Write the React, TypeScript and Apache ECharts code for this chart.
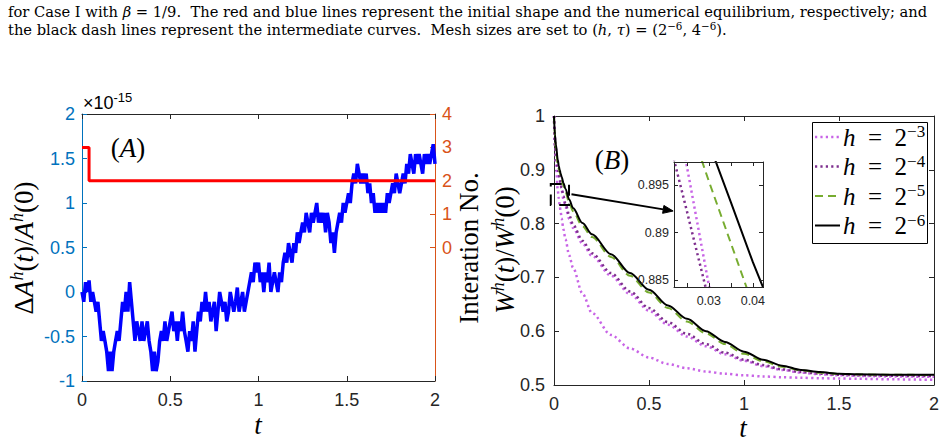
import { useEffect, useRef } from 'react';
import * as echarts from 'echarts';

// ---- Panel (A): relative area change (units of 1e-15), sampled every AREA_DT ----
const AREA_DT = 0.01;
const AREA_ERR = [
  0, -0.11, 0.11, 0, 0.13, -0.11, 0, -0.11, -0.22, -0.11,
  -0.33, -0.55, -0.44, -0.55, -0.67, -0.89, -0.67, -0.89, -0.67, -0.55,
  -0.44, -0.55, -0.33, -0.11, -0.22, 0, -0.22, 0.11, -0.11, -0.33,
  -0.55, -0.33, -0.44, -0.55, -0.33, -0.55, -0.44, -0.33, -0.55, -0.67,
  -0.89, -0.67, -0.89, -0.78, -0.55, -0.44, -0.55, -0.33, -0.55, -0.44,
  -0.33, -0.22, -0.44, -0.33, -0.55, -0.33, -0.44, -0.22, -0.44, -0.55,
  -0.67, -0.44, -0.55, -0.33, -0.67, -0.44, -0.22, -0.33, -0.11, -0.22,
  0, -0.22, -0.11, -0.33, -0.22, -0.11, -0.44, -0.22, 0, -0.11,
  -0.22, -0.11, -0.33, -0.22, 0, -0.11, -0.22, -0.11, 0.05, -0.22,
  -0.11, 0, -0.22, -0.11, 0, 0.11, 0.22, 0.11, 0.33, 0.22,
  0.33, 0.11, 0.22, 0, 0.22, 0.11, 0.33, 0, 0.11, 0.22,
  0.11, 0, 0.22, 0.11, 0.33, 0.44, 0.33, 0.55, 0.44, 0.33,
  0.55, 0.44, 0.67, 0.55, 0.67, 0.78, 0.67, 0.89, 0.78, 0.67,
  0.89, 0.78, 0.89, 1.0, 0.78, 0.89, 0.78, 0.89, 0.67, 0.89,
  0.78, 0.55, 0.67, 0.44, 0.67, 0.78, 0.89, 0.78, 1.0, 0.89,
  1.0, 1.11, 1.0, 1.22, 1.33, 1.22, 1.44, 1.33, 1.22, 1.33,
  1.22, 1.33, 1.11, 1.22, 1.0, 1.11, 0.89, 1.0, 0.89, 1.0,
  0.89, 1.0, 0.89, 1.11, 1.0, 1.11, 1.22, 1.11, 1.33, 1.22,
  1.11, 1.22, 1.33, 1.22, 1.44, 1.33, 1.55, 1.44, 1.33, 1.55,
  1.44, 1.55, 1.44, 1.33, 1.55, 1.44, 1.55, 1.44, 1.55, 1.66,
  1.44,
];

// iteration count of the nonlinear solver
const ITER_T = [0, 0.04, 2];
const ITER_N = [3, 2, 2];

// ---- Panel (B): normalized energy W^h(t)/W^h(0) for several mesh sizes ----
const T = [
  0, 0.005, 0.01, 0.02, 0.025, 0.03, 0.035, 0.04, 0.05, 0.06,
  0.08, 0.1, 0.15, 0.2, 0.3, 0.4, 0.5, 0.6, 0.7, 0.8,
  0.9, 1.0, 1.1, 1.2, 1.3, 1.4, 1.5, 1.6, 1.8, 2.0,
];
const W_H2 = [
  1, 0.945, 0.912, 0.862, 0.847, 0.834, 0.822, 0.81, 0.789, 0.771,
  0.741, 0.718, 0.67, 0.634, 0.593, 0.568, 0.551, 0.539, 0.531, 0.525,
  0.521, 0.518, 0.516, 0.5145, 0.5135, 0.5125, 0.512, 0.5115, 0.5105, 0.5095,
];
const W_H3 = [
  1, 0.96, 0.94, 0.91, 0.897, 0.8845, 0.873, 0.862, 0.845, 0.831,
  0.809, 0.792, 0.763, 0.74, 0.703, 0.669, 0.638, 0.612, 0.59, 0.572,
  0.557, 0.545, 0.535, 0.528, 0.523, 0.52, 0.518, 0.517, 0.5158, 0.5152,
];
const W_H4 = [
  1, 0.945, 0.927, 0.9015, 0.8923, 0.8829, 0.8745, 0.8665, 0.851, 0.838,
  0.816, 0.798, 0.768, 0.745, 0.708, 0.674, 0.643, 0.617, 0.595, 0.576,
  0.56, 0.547, 0.537, 0.529, 0.524, 0.521, 0.519, 0.518, 0.517, 0.5165,
];
const W_H5 = [
  1, 0.962, 0.94, 0.91, 0.9022, 0.8954, 0.8889, 0.8824, 0.87, 0.859,
  0.839, 0.823, 0.795, 0.775, 0.738, 0.703, 0.672, 0.643, 0.618, 0.596,
  0.576, 0.558, 0.544, 0.534, 0.527, 0.523, 0.5205, 0.5195, 0.519, 0.5185,
];
const W_H6 = [
  1, 0.965, 0.947, 0.918, 0.9075, 0.8994, 0.8932, 0.8869, 0.8755, 0.865,
  0.845, 0.829, 0.801, 0.78, 0.743, 0.708, 0.677, 0.648, 0.623, 0.6,
  0.58, 0.562, 0.547, 0.536, 0.528, 0.524, 0.521, 0.52, 0.519, 0.519,
];

const LEGEND_EXP = ['−3', '−4', '−5', '−6'];

// inset window and annotation geometry (data coordinates of panel B)
const INSET_X = [0.0221, 0.0423];
const INSET_Y = [0.8843, 0.8974];
const ZOOM_BOX = [[-0.017, 0.8736], [0.079, 0.8346]];
const ARROW = [[0.092, 0.8545], [0.627, 0.8234]];

const SANS = "'Liberation Sans', Arial, Helvetica, sans-serif";
const SERIF = "'Liberation Serif', 'Times New Roman', serif";
const CAP_SERIF = "'DejaVu Serif', serif";
const AX = '#262626';
const BLUE_AX = '#0072BD';
const ORANGE_AX = '#D95319';
const ORCHID = '#C864E6';
const PURPLE = '#7E2F8E';
const GREEN = '#77AC30';
const DOTTED = [2.2, 3.2];
const DASHED = [8, 5];

type Style = { color: string; dash: number[] | null; width: number };
const STYLES: Style[] = [
  { color: ORCHID, dash: DOTTED, width: 2.5 },
  { color: PURPLE, dash: DOTTED, width: 2.5 },
  { color: GREEN, dash: DASHED, width: 2 },
  { color: '#000', dash: null, width: 2 },
];

const mathRich = (family: string, size: number, supSize: number, lh: number, supLh: number) => ({
  rm: { fontFamily: family, fontSize: size, lineHeight: lh, color: '#000' },
  it: { fontFamily: family, fontStyle: 'italic', fontSize: size, lineHeight: lh, color: '#000' },
  sup: { fontFamily: family, fontStyle: 'italic', fontSize: supSize, lineHeight: supLh, verticalAlign: 'top', color: '#000' },
  supr: { fontFamily: family, fontSize: supSize, lineHeight: supLh, verticalAlign: 'top', color: '#000' },
});

const pairs = (xs: number[], ys: number[]) => xs.map((x, i) => [x, ys[i]]);

function axisCommon(color: string, tickLen: number) {
  return {
    axisLine: { show: true, onZero: false, lineStyle: { color, width: 1 } },
    axisTick: { show: true, inside: true, length: tickLen, lineStyle: { color } },
    splitLine: { show: false },
  };
}

function buildOption() {
  const curve = (data: number[], st: Style, xi: number, yi: number, inset: boolean) => ({
    type: 'line', xAxisIndex: xi, yAxisIndex: yi, data: pairs(T, data),
    showSymbol: false, symbol: 'none', smooth: inset ? false : 0.3, smoothMonotone: 'x',
    lineStyle: { color: st.color, width: st.width, type: st.dash || 'solid', cap: 'butt' },
    clip: true, z: inset ? 8 : 3,
  });
  const groups: [number[], Style][] = [
    [W_H2, STYLES[0]],
    [W_H3, STYLES[0]],
    [W_H4, STYLES[1]],
    [W_H5, STYLES[2]],
    [W_H6, STYLES[3]],
  ];
  const mainCurves = groups.map((g) => curve(g[0], g[1], 2, 2, false));
  const insetCurves = groups.map((g) => curve(g[0], g[1], 4, 4, true));

  const mainX = (grid: number, pos: string, show: boolean) => ({
    type: 'value', gridIndex: grid, position: pos, min: 0, max: 2, interval: 0.5,
    ...axisCommon(AX, 5),
    axisLabel: { show, color: AX, fontFamily: SANS, fontSize: 18, margin: 10 },
  });
  const insetX = (pos: string, show: boolean) => ({
    type: 'value', gridIndex: 2, position: pos, min: INSET_X[0], max: INSET_X[1], z: 9,
    ...axisCommon(AX, 4),
    axisTick: { show: true, inside: true, length: 4, lineStyle: { color: AX }, customValues: [0.025, 0.03, 0.035, 0.04] },
    axisLabel: { show, color: AX, fontFamily: SANS, fontSize: 12.5, margin: 7, customValues: [0.03, 0.04] },
  });
  const insetY = (pos: string, show: boolean) => ({
    type: 'value', gridIndex: 2, position: pos, min: INSET_Y[0], max: INSET_Y[1], z: 9,
    ...axisCommon(AX, 4),
    axisTick: { show: true, inside: true, length: 4, lineStyle: { color: AX }, customValues: [0.885, 0.89, 0.895] },
    axisLabel: { show, color: AX, fontFamily: SANS, fontSize: 12.5, margin: 5, customValues: [0.885, 0.89, 0.895] },
  });

  return {
    animation: false,
    backgroundColor: '#fff',
    grid: [
      { left: 82, top: 114, width: 353, height: 267, show: false },
      { left: 554, top: 116, width: 380, height: 269, show: false },
      { left: 674, top: 162, width: 89, height: 125, show: true, backgroundColor: '#fff', borderWidth: 0, z: 6 },
    ],
    xAxis: [
      mainX(0, 'bottom', true),
      mainX(0, 'top', false),
      mainX(1, 'bottom', true),
      mainX(1, 'top', false),
      insetX('bottom', true),
      insetX('top', false),
    ],
    yAxis: [
      {
        type: 'value', gridIndex: 0, position: 'left', min: -1, max: 2, interval: 0.5,
        ...axisCommon(BLUE_AX, 5),
        axisLabel: { color: BLUE_AX, fontFamily: SANS, fontSize: 18, margin: 7 },
      },
      {
        type: 'value', gridIndex: 0, position: 'right', min: -4, max: 4,
        ...axisCommon(ORANGE_AX, 5),
        axisTick: { show: true, inside: true, length: 5, lineStyle: { color: ORANGE_AX }, customValues: [0, 1, 2, 3, 4] },
        axisLabel: { color: ORANGE_AX, fontFamily: SANS, fontSize: 18, margin: 7, customValues: [0, 1, 2, 3, 4] },
      },
      {
        type: 'value', gridIndex: 1, position: 'left', min: 0.5, max: 1, interval: 0.1,
        ...axisCommon(AX, 5),
        axisLabel: { color: AX, fontFamily: SANS, fontSize: 18, margin: 9 },
      },
      {
        type: 'value', gridIndex: 1, position: 'right', min: 0.5, max: 1, interval: 0.1,
        ...axisCommon(AX, 5),
        axisLabel: { show: false },
      },
      insetY('left', true),
      insetY('right', false),
    ],
    series: [
      {
        type: 'line', xAxisIndex: 0, yAxisIndex: 0,
        data: AREA_ERR.map((v, i) => [i * AREA_DT, v]),
        showSymbol: false, symbol: 'none',
        lineStyle: { color: '#0000FF', width: 3.5 }, z: 2,
      },
      {
        type: 'line', xAxisIndex: 0, yAxisIndex: 1,
        data: pairs(ITER_T, ITER_N), step: 'end',
        showSymbol: false, symbol: 'none',
        lineStyle: { color: '#FF0000', width: 3 }, z: 3,
      },
      ...mainCurves,
      ...insetCurves,
    ],
  };
}

export default function App() {
  const ref = useRef<HTMLDivElement>(null);
  useEffect(() => {
    const chart = echarts.init(ref.current!, null, { renderer: 'svg' });
    chart.setOption(buildOption() as any);

    const toPx = (p: number[]) => chart.convertToPixel({ xAxisIndex: 2, yAxisIndex: 2 }, p) as number[];
    const b0 = toPx(ZOOM_BOX[0]);
    const b1 = toPx(ZOOM_BOX[1]);
    const a0 = toPx(ARROW[0]);
    const a1 = toPx(ARROW[1]);
    const ang = Math.atan2(a1[1] - a0[1], a1[0] - a0[0]);
    const hl = 10;
    const hw = 4;
    const base = [a1[0] - hl * Math.cos(ang), a1[1] - hl * Math.sin(ang)];
    const head = [
      [a1[0], a1[1]],
      [base[0] + hw * Math.sin(ang), base[1] - hw * Math.cos(ang)],
      [base[0] - hw * Math.sin(ang), base[1] + hw * Math.cos(ang)],
    ];

    const cap = mathRich(CAP_SERIF, 14.7, 10.3, 17, 9);
    const big = mathRich(SERIF, 27, 18, 32, 17);
    const leg = mathRich(SERIF, 25, 17, 28, 14);

    // legend box of panel (B)
    const LEG_X = 812;
    const LEG_Y = 122;
    const ROW0 = 15;
    const ROW_GAP = 29.5;
    const legendEls: any[] = [
      {
        type: 'rect', z: 11,
        shape: { x: LEG_X + 0.5, y: LEG_Y + 0.5, width: 115, height: 121 },
        style: { fill: '#fff', stroke: '#000', lineWidth: 1 },
      },
    ];
    STYLES.forEach((st, i) => {
      const cy = LEG_Y + ROW0 + i * ROW_GAP;
      legendEls.push({
        type: 'line', z: 12,
        shape: { x1: LEG_X + 3, y1: cy, x2: LEG_X + 28, y2: cy },
        style: { stroke: st.color, lineWidth: st.width, lineDash: st.dash || undefined },
      });
      legendEls.push({
        type: 'text', z: 12, x: LEG_X + 31, y: cy,
        style: { text: `{it|h}{rm|  =  2}{supr|${LEGEND_EXP[i]}}`, rich: leg, verticalAlign: 'middle' },
      });
    });

    chart.setOption({
      graphic: [
        {
          type: 'text', left: 8, top: 4, z: 10,
          style: {
            text: '{rm|for Case I with }{it|β}{rm| = 1/9.  The red and blue lines represent the initial shape and the numerical equilibrium, respectively; and}',
            rich: cap,
          },
        },
        {
          type: 'text', left: 8, top: 21, z: 10,
          style: {
            text: '{rm|the black dash lines represent the intermediate curves.  Mesh sizes are set to (}{it|h}{rm|, }{it|τ}{rm|) = (2}{supr|−6}{rm|, 4}{supr|−6}{rm|).}',
            rich: cap,
          },
        },
        // exponent of the left axis of (A)
        {
          type: 'text', x: 83, y: 103, z: 10,
          style: {
            text: '{b|×10}{s|-15}', verticalAlign: 'middle',
            rich: {
              b: { fontFamily: SANS, fontSize: 18, lineHeight: 24, color: BLUE_AX },
              s: { fontFamily: SANS, fontSize: 13, lineHeight: 10, verticalAlign: 'top', color: BLUE_AX },
            },
          },
        },
        // panel labels
        { type: 'text', x: 128, y: 148, z: 10, style: { text: '{rm|(}{it|A}{rm|)}', rich: big, align: 'center', verticalAlign: 'middle' } },
        { type: 'text', x: 612, y: 160, z: 10, style: { text: '{rm|(}{it|B}{rm|)}', rich: big, align: 'center', verticalAlign: 'middle' } },
        // axis titles
        {
          type: 'text', x: 24, y: 248, rotation: Math.PI / 2, z: 10,
          style: { text: '{rm|Δ}{it|A}{sup|h}{rm|(}{it|t}{rm|)/}{it|A}{sup|h}{rm|(0)}', rich: big, align: 'center', verticalAlign: 'middle' },
        },
        {
          type: 'text', x: 469, y: 248, rotation: Math.PI / 2, z: 10,
          style: { text: '{rm|Interation No.}', rich: big, align: 'center', verticalAlign: 'middle' },
        },
        {
          type: 'text', x: 505, y: 250, rotation: Math.PI / 2, z: 10,
          style: { text: '{it|W}{sup|h}{rm|(}{it|t}{rm|)/}{it|W}{sup|h}{rm|(0)}', rich: big, align: 'center', verticalAlign: 'middle' },
        },
        { type: 'text', x: 258, y: 425, z: 10, style: { text: '{it|t}', rich: big, align: 'center', verticalAlign: 'middle' } },
        { type: 'text', x: 743, y: 428, z: 10, style: { text: '{it|t}', rich: big, align: 'center', verticalAlign: 'middle' } },
        // zoom window marker and arrow to the inset
        {
          type: 'rect', z: 10,
          shape: { x: Math.min(b0[0], b1[0]), y: Math.min(b0[1], b1[1]), width: Math.abs(b1[0] - b0[0]), height: Math.abs(b1[1] - b0[1]) },
          style: { fill: 'none', stroke: '#000', lineWidth: 2, lineDash: [11, 8] },
        },
        {
          type: 'line', z: 10,
          shape: { x1: a0[0], y1: a0[1], x2: base[0], y2: base[1] },
          style: { stroke: '#000', lineWidth: 2 },
        },
        {
          type: 'polygon', z: 10,
          shape: { points: head },
          style: { fill: '#000', stroke: '#000', lineWidth: 1 },
        },
        ...legendEls,
      ],
    });
    return () => chart.dispose();
  }, []);
  return <div ref={ref} style={{ position: 'fixed', left: 0, top: 0, width: 945, height: 442 }} />;
}
